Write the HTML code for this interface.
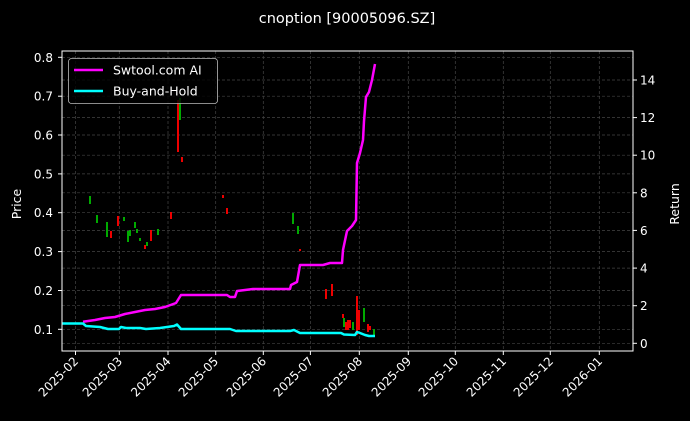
<!DOCTYPE html>
<html><head><meta charset="utf-8"><style>
html,body{margin:0;padding:0;background:#000;}
svg{display:block;font-family:"DejaVu Sans","Liberation Sans",sans-serif;}
</style></head><body>
<svg width="690" height="421" viewBox="0 0 690 421" xmlns="http://www.w3.org/2000/svg">
<rect width="690" height="421" fill="#000"/>
<text x="347" y="23" fill="#fff" font-size="14.5" text-anchor="middle">cnoption [90005096.SZ]</text>
<g stroke="#444" stroke-width="0.7" stroke-dasharray="3,2">
<line x1="62" x2="633" y1="57.3" y2="57.3"/><line x1="62" x2="633" y1="96.2" y2="96.2"/><line x1="62" x2="633" y1="135" y2="135"/><line x1="62" x2="633" y1="173.9" y2="173.9"/><line x1="62" x2="633" y1="212.7" y2="212.7"/><line x1="62" x2="633" y1="251.6" y2="251.6"/><line x1="62" x2="633" y1="290.5" y2="290.5"/><line x1="62" x2="633" y1="329.3" y2="329.3"/>
<line x1="62" x2="633" y1="343.3" y2="343.3"/><line x1="62" x2="633" y1="305.7" y2="305.7"/><line x1="62" x2="633" y1="268.1" y2="268.1"/><line x1="62" x2="633" y1="230.4" y2="230.4"/><line x1="62" x2="633" y1="192.8" y2="192.8"/><line x1="62" x2="633" y1="155.2" y2="155.2"/><line x1="62" x2="633" y1="117.6" y2="117.6"/><line x1="62" x2="633" y1="80" y2="80"/>
<line y1="51" y2="351" x1="75.5" x2="75.5"/><line y1="51" y2="351" x1="119.3" x2="119.3"/><line y1="51" y2="351" x1="168" x2="168"/><line y1="51" y2="351" x1="215.7" x2="215.7"/><line y1="51" y2="351" x1="263.3" x2="263.3"/><line y1="51" y2="351" x1="310.4" x2="310.4"/><line y1="51" y2="351" x1="359.3" x2="359.3"/><line y1="51" y2="351" x1="408.3" x2="408.3"/><line y1="51" y2="351" x1="455.3" x2="455.3"/><line y1="51" y2="351" x1="503.3" x2="503.3"/><line y1="51" y2="351" x1="550.3" x2="550.3"/><line y1="51" y2="351" x1="599.3" x2="599.3"/>
</g>
<g stroke-width="2">
<line x1="90" x2="90" y1="196" y2="204" stroke="#0a0"/><line x1="97" x2="97" y1="215" y2="223" stroke="#0a0"/><line x1="107" x2="107" y1="222" y2="237" stroke="#0a0"/><line x1="111" x2="111" y1="231" y2="238" stroke="#e00"/><line x1="118" x2="118" y1="216" y2="226" stroke="#e00"/><line x1="124" x2="124" y1="217" y2="221" stroke="#0a0"/><line x1="128" x2="128" y1="231" y2="242" stroke="#0a0"/><line x1="130" x2="130" y1="230" y2="236" stroke="#0a0"/><line x1="135" x2="135" y1="222" y2="228" stroke="#0a0"/><line x1="137" x2="137" y1="229" y2="233" stroke="#0a0"/><line x1="140" x2="140" y1="238" y2="241" stroke="#0a0"/><line x1="145" x2="145" y1="245" y2="249" stroke="#e00"/><line x1="147" x2="147" y1="242" y2="246" stroke="#0a0"/><line x1="151" x2="151" y1="230" y2="241" stroke="#e00"/><line x1="158" x2="158" y1="229" y2="235" stroke="#0a0"/><line x1="171" x2="171" y1="212" y2="219" stroke="#e00"/><line x1="178" x2="178" y1="100" y2="152" stroke="#e00"/><line x1="180" x2="180" y1="98" y2="120" stroke="#0a0"/><line x1="182" x2="182" y1="157" y2="162" stroke="#e00"/><line x1="223" x2="223" y1="195" y2="198" stroke="#e00"/><line x1="227" x2="227" y1="208" y2="214" stroke="#e00"/><line x1="293" x2="293" y1="213" y2="224" stroke="#0a0"/><line x1="298" x2="298" y1="226" y2="234" stroke="#0a0"/><line x1="300" x2="300" y1="249" y2="251" stroke="#e00"/><line x1="326" x2="326" y1="289" y2="299" stroke="#e00"/><line x1="332" x2="332" y1="284" y2="296" stroke="#e00"/><line x1="343" x2="343" y1="314" y2="318" stroke="#e00"/><line x1="344" x2="344" y1="318" y2="327" stroke="#0a0"/><line x1="346" x2="346" y1="322" y2="330" stroke="#e00"/><line x1="348" x2="348" y1="320" y2="330" stroke="#e00"/><line x1="350" x2="350" y1="320" y2="328" stroke="#e00"/><line x1="353" x2="353" y1="322" y2="330" stroke="#0a0"/><line x1="357" x2="357" y1="296" y2="335" stroke="#e00"/><line x1="359" x2="359" y1="310" y2="330" stroke="#e00"/><line x1="364" x2="364" y1="308" y2="322" stroke="#0a0"/><line x1="368" x2="368" y1="324" y2="332" stroke="#e00"/><line x1="370" x2="370" y1="326" y2="330" stroke="#e00"/><line x1="374" x2="374" y1="329" y2="336" stroke="#0a0"/>
</g>
<polyline fill="none" stroke="#f0f" stroke-width="2.5" stroke-linejoin="round" points="83,321.7 95,320 105,318 115,317 125,314 135,312 145,310 155,309 165,307 176,303 181,295 227,295 230,297 235,297 237,291 253,289 278,289 290,289 291,285 297,282 300,265 323,265 330,263 342,263 343,250 347,231 352,226 356,220 357,163 360,153 363,140 364,121 366,97 369,92 372,80 375,64"/>
<polyline fill="none" stroke="#0ff" stroke-width="2.5" stroke-linejoin="round" points="62,323.5 83,323.5 86,326 100,327 108,329 119,329 121,327 126,328 140,328 146,329 160,328 174,326 177,324.5 181,329 230,329 236,331 290,331 294,330 300,333 341,333 344,334.5 355,335 357,332 360,333 365,335 369,336 375,336"/>
<rect x="62" y="51" width="571" height="300" fill="none" stroke="#fff" stroke-width="1"/>
<rect x="68.5" y="58.5" width="149" height="45" rx="3" fill="#000" fill-opacity="0.8" stroke="#bbb" stroke-width="0.8"/>
<line x1="74" x2="103" y1="70" y2="70" stroke="#f0f" stroke-width="2.5"/>
<line x1="74" x2="103" y1="91" y2="91" stroke="#0ff" stroke-width="2.5"/>
<text x="113" y="74.5" fill="#fff" font-size="12.5">Swtool.com AI</text>
<text x="113" y="95.5" fill="#fff" font-size="12.5">Buy-and-Hold</text>
<g fill="#fff" font-size="12" text-anchor="end">
<text x="53" y="61.8">0.8</text><text x="53" y="100.7">0.7</text><text x="53" y="139.5">0.6</text><text x="53" y="178.4">0.5</text><text x="53" y="217.2">0.4</text><text x="53" y="256.1">0.3</text><text x="53" y="295">0.2</text><text x="53" y="333.8">0.1</text>
</g>
<g stroke="#fff"><line x1="58" x2="62" y1="57.3" y2="57.3"/><line x1="58" x2="62" y1="96.2" y2="96.2"/><line x1="58" x2="62" y1="135" y2="135"/><line x1="58" x2="62" y1="173.9" y2="173.9"/><line x1="58" x2="62" y1="212.7" y2="212.7"/><line x1="58" x2="62" y1="251.6" y2="251.6"/><line x1="58" x2="62" y1="290.5" y2="290.5"/><line x1="58" x2="62" y1="329.3" y2="329.3"/>
<line x1="633" x2="637" y1="343.3" y2="343.3"/><line x1="633" x2="637" y1="305.7" y2="305.7"/><line x1="633" x2="637" y1="268.1" y2="268.1"/><line x1="633" x2="637" y1="230.4" y2="230.4"/><line x1="633" x2="637" y1="192.8" y2="192.8"/><line x1="633" x2="637" y1="155.2" y2="155.2"/><line x1="633" x2="637" y1="117.6" y2="117.6"/><line x1="633" x2="637" y1="80" y2="80"/>
<line y1="351" y2="355" x1="75.5" x2="75.5"/><line y1="351" y2="355" x1="119.3" x2="119.3"/><line y1="351" y2="355" x1="168" x2="168"/><line y1="351" y2="355" x1="215.7" x2="215.7"/><line y1="351" y2="355" x1="263.3" x2="263.3"/><line y1="351" y2="355" x1="310.4" x2="310.4"/><line y1="351" y2="355" x1="359.3" x2="359.3"/><line y1="351" y2="355" x1="408.3" x2="408.3"/><line y1="351" y2="355" x1="455.3" x2="455.3"/><line y1="351" y2="355" x1="503.3" x2="503.3"/><line y1="351" y2="355" x1="550.3" x2="550.3"/><line y1="351" y2="355" x1="599.3" x2="599.3"/></g>
<text transform="translate(21,204) rotate(-90)" fill="#fff" font-size="12.5" text-anchor="middle">Price</text>
<g fill="#fff" font-size="12">
<text x="640" y="347.8">0</text><text x="640" y="310.2">2</text><text x="640" y="272.6">4</text><text x="640" y="234.9">6</text><text x="640" y="197.3">8</text><text x="640" y="159.7">10</text><text x="640" y="122.1">12</text><text x="640" y="84.5">14</text>
</g>
<text transform="translate(679,204) rotate(-90)" fill="#fff" font-size="12.5" text-anchor="middle">Return</text>
<g fill="#fff" font-size="12" text-anchor="end">
<text transform="translate(79,362) rotate(-45)">2025-02</text>
<text transform="translate(123,362) rotate(-45)">2025-03</text>
<text transform="translate(171.5,362) rotate(-45)">2025-04</text>
<text transform="translate(219,362) rotate(-45)">2025-05</text>
<text transform="translate(267,362) rotate(-45)">2025-06</text>
<text transform="translate(314,362) rotate(-45)">2025-07</text>
<text transform="translate(363,362) rotate(-45)">2025-08</text>
<text transform="translate(412,362) rotate(-45)">2025-09</text>
<text transform="translate(459,362) rotate(-45)">2025-10</text>
<text transform="translate(507,362) rotate(-45)">2025-11</text>
<text transform="translate(554,362) rotate(-45)">2025-12</text>
<text transform="translate(603,362) rotate(-45)">2026-01</text>
</g>
</svg>
</body></html>
